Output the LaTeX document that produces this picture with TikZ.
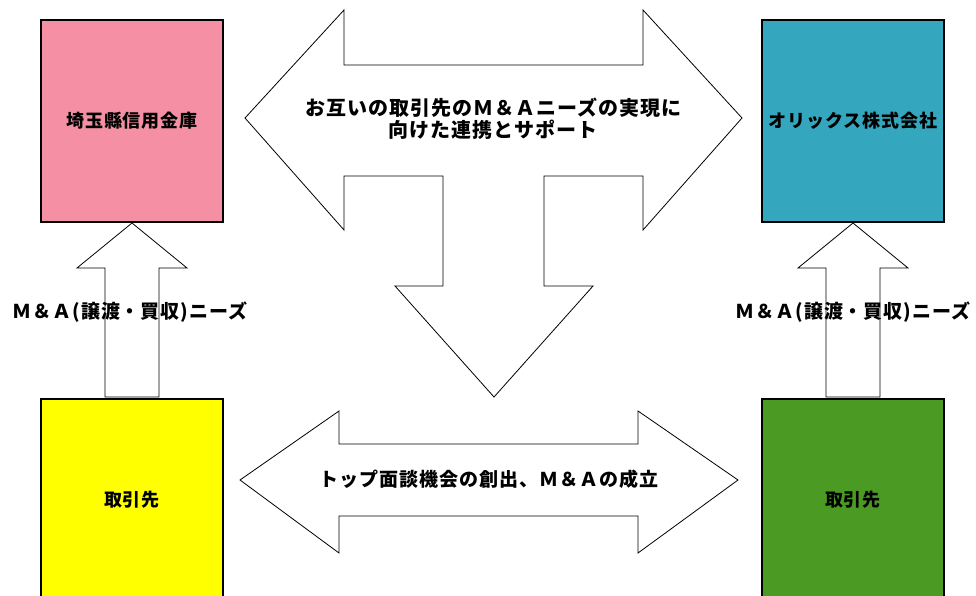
\documentclass[tikz,border=0pt]{standalone}
\usepackage{fontspec}
\setmainfont{Noto Sans CJK JP}[LetterSpace=5]
\usepackage{tikz}

\definecolor{saitamapink}{RGB}{244,143,164}
\definecolor{orixteal}{RGB}{52,166,190}
\definecolor{clientyellow}{RGB}{255,255,0}
\definecolor{clientgreen}{RGB}{74,154,36}

\tikzset{
  box/.style={draw, line width=2pt, minimum width=182pt, minimum height=202pt, inner sep=0pt,
    font=\bfseries\fontsize{18}{22}\selectfont},
  blockarrow/.style={draw, line width=0.8pt, fill=white, line join=miter},
  lbl/.style={font=\bfseries\fontsize{19}{22}\selectfont, align=center}
}

\begin{document}
\begin{tikzpicture}[x=1pt,y=-1pt]
    \useasboundingbox (0,0) rectangle (976,596);

    % Boxes
    \node[box, fill=saitamapink] (saitama) at (132,121) {埼玉縣信用金庫};
    \node[box, fill=orixteal] (orix) at (853,121) {オリックス株式会社};
    \node[box, fill=clientyellow] (clientl) at (132,500) {取引先};
    \node[box, fill=clientgreen] (clientr) at (853,500) {取引先};

    % Needs arrows (client -> partner)
    \draw[blockarrow] (saitama.south) -- ++(55,45) -- ++(-28,0) -- ++(0,129) -- ++(-54,0) -- ++(0,-129) -- ++(-28,0) -- cycle;
    \draw[blockarrow] (orix.south) -- ++(55,45) -- ++(-28,0) -- ++(0,129) -- ++(-54,0) -- ++(0,-129) -- ++(-28,0) -- cycle;
    \node[lbl] (needsl) at (130,312) {Ｍ＆Ａ(譲渡・買収)ニーズ};
    \node[lbl] (needsr) at (853,312) {Ｍ＆Ａ(譲渡・買収)ニーズ};

    % Cooperation arrow (three-way)
    \draw[blockarrow] (245,118) -- (344,10) -- (344,65) -- (643,65) -- (643,10) -- (742,118)
      -- (643,230) -- (643,176) -- (544,176) -- (544,286) -- (593,286) -- (494,397)
      -- (395,286) -- (443,286) -- (443,176) -- (344,176) -- (344,230) -- cycle;
    \node[lbl, font=\bfseries\fontsize{20}{22}\selectfont] (support) at (493,119) {お互いの取引先のＭ＆Ａニーズの実現に\\向けた連携とサポート};

    % Meeting arrow (double)
    \draw[blockarrow] (240,480) -- (339,411) -- (339,444) -- (638,444) -- (638,411) -- (738,480)
      -- (638,553) -- (638,516) -- (339,516) -- (339,553) -- cycle;
    \node[lbl] (meeting) at (489,479) {トップ面談機会の創出、Ｍ＆Ａの成立};
\end{tikzpicture}
\end{document}
